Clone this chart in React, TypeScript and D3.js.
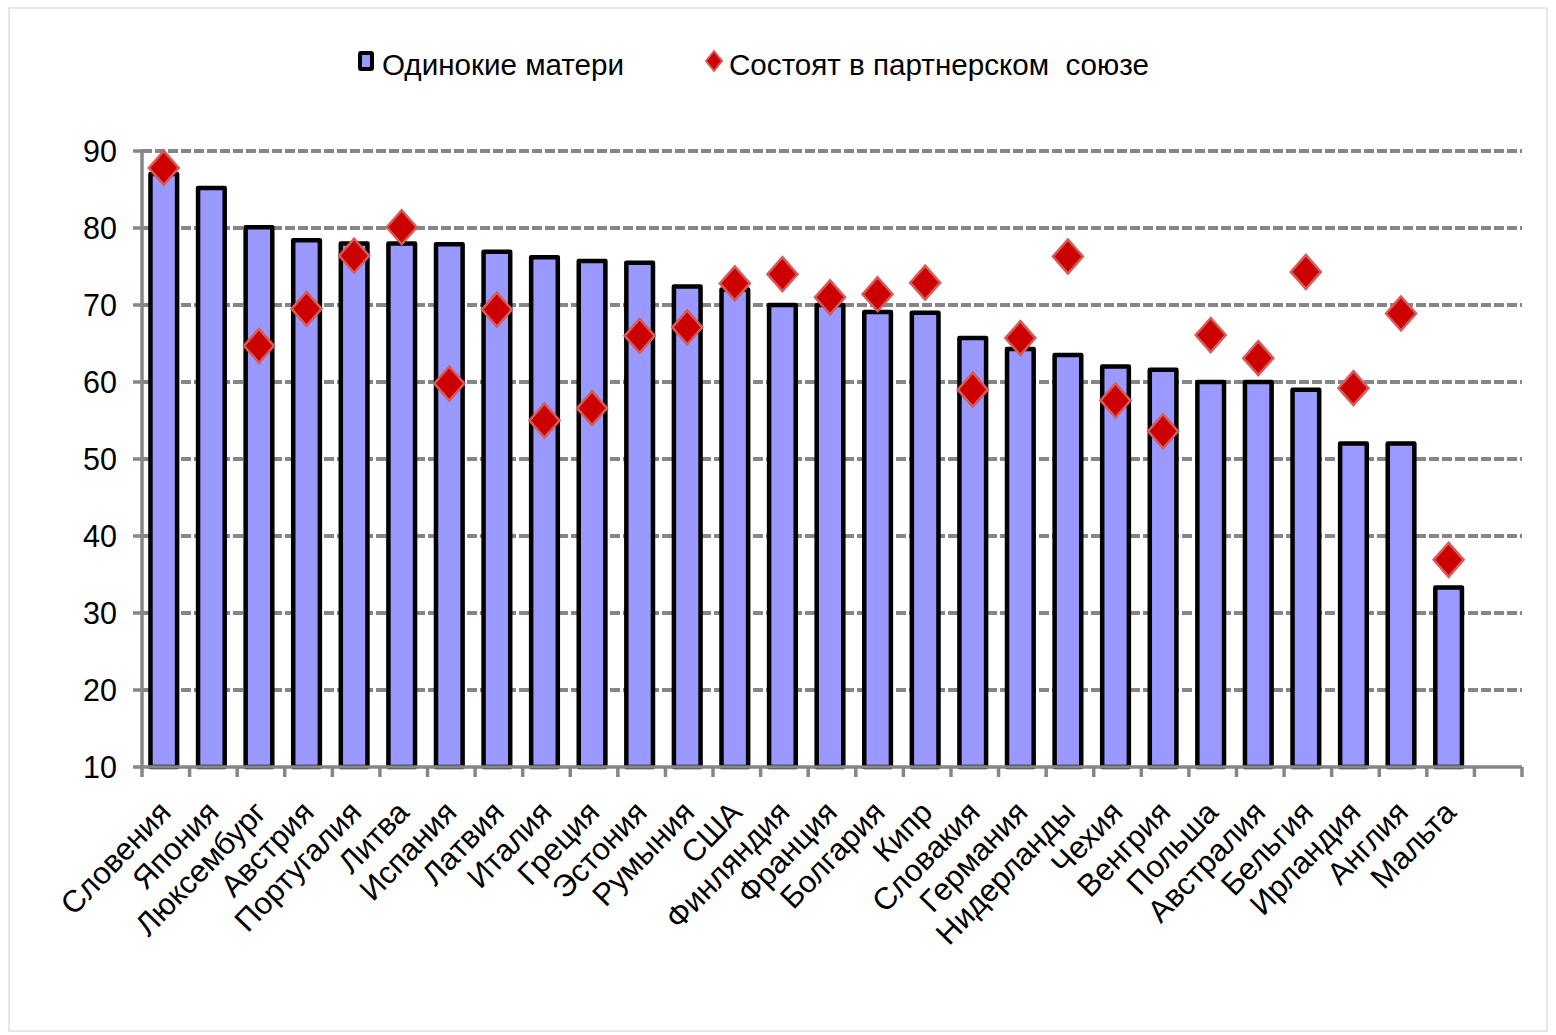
import React from "react";
import * as d3 from "d3";

const categories = [
  "Словения", "Япония", "Люксембург", "Австрия", "Португалия", "Литва", "Испания",
  "Латвия", "Италия", "Греция", "Эстония", "Румыния", "США", "Финляндия", "Франция",
  "Болгария", "Кипр", "Словакия", "Германия", "Нидерланды", "Чехия", "Венгрия",
  "Польша", "Австралия", "Бельгия", "Ирландия", "Англия", "Мальта",
];

const singleMothers = [
  87.0, 85.2, 80.1, 78.4, 78.0, 78.0, 77.9, 76.9, 76.2, 75.7, 75.5, 72.4, 72.0, 70.0,
  70.0, 69.1, 69.0, 65.7, 64.3, 63.5, 62.0, 61.6, 60.0, 60.0, 59.0, 52.0, 52.0, 33.3,
];

const partnered: (number | null)[] = [
  87.8, null, 64.7, 69.5, 76.4, 80.1, 59.8, 69.4, 55.0, 56.6, 66.0, 67.1, 72.8, 74.0,
  71.0, 71.4, 72.9, 59.0, 65.7, 76.3, 57.6, 53.6, 66.1, 63.1, 74.3, 59.2, 68.9, 36.9,
];

const yTicks = [10, 20, 30, 40, 50, 60, 70, 80, 90];

const seriesNames = ["Одинокие матери", "Состоят в партнерском  союзе"];

const W = 1556;
const H = 1035;
const left = 142;
const right = 1522;
const top = 151;
const bottom = 767;
const FONT = "'Liberation Sans', Arial, sans-serif";

export default function App() {
  const slots = [...categories, ""];
  const x = d3.scaleBand<string>().domain(slots).range([left - 2, right - 2]).padding(0);
  const y = d3.scaleLinear().domain([10, 90]).range([bottom, top]);
  const bw = x.bandwidth() * 0.56;
  const boundaries = d3.range(slots.length + 1).map((i) => left + (i * (right - left)) / slots.length);

  const diamond = (cx: number, cy: number, hw: number, hh: number) =>
    `M${cx},${cy - hh}L${cx + hw},${cy}L${cx},${cy + hh}L${cx - hw},${cy}Z`;

  return (
    <svg
      width={W}
      height={H}
      style={{ position: "absolute", left: 0, top: 0, background: "#fff" }}
      fontFamily={FONT}
    >
      <rect x={9} y={8} width={W - 18} height={H - 12} fill="#fff" stroke="#e0e0e0" strokeWidth={1.5} />

      {/* gridlines */}
      {yTicks.filter((t) => t > 10).map((t) => (
        <line
          key={"g" + t}
          x1={left}
          x2={right}
          y1={y(t)}
          y2={y(t)}
          stroke="#868686"
          strokeWidth={4}
          strokeDasharray="10,3"
        />
      ))}

      {/* y axis */}
      <line x1={left} x2={left} y1={top} y2={bottom} stroke="#868686" strokeWidth={3.5} />
      {yTicks.map((t) => (
        <g key={"yt" + t}>
          <line x1={left - 9} x2={left} y1={y(t)} y2={y(t)} stroke="#868686" strokeWidth={3.5} />
          <text x={117} y={y(t)} dy="0.36em" textAnchor="end" fontSize={30.5} fill="#000">
            {t}
          </text>
        </g>
      ))}

      {/* bars */}
      {categories.map((c, i) => {
        const cx = (x(c) as number) + x.bandwidth() / 2;
        return (
          <rect
            key={"b" + c}
            x={cx - bw / 2}
            y={y(singleMothers[i])}
            width={bw}
            height={bottom - y(singleMothers[i])}
            fill="#9999ff"
            stroke="#000"
            strokeWidth={4.5}
            strokeLinejoin="round"
          />
        );
      })}

      {/* x axis */}
      <line x1={left} x2={right} y1={bottom} y2={bottom} stroke="#868686" strokeWidth={3.5} />
      {boundaries.map((bx, i) => (
        <line key={"xt" + i} x1={bx} x2={bx} y1={bottom} y2={bottom + 10} stroke="#868686" strokeWidth={3.5} />
      ))}

      {/* diamonds */}
      {categories.map((c, i) => {
        const v = partnered[i];
        if (v == null) return null;
        const cx = (x(c) as number) + x.bandwidth() / 2;
        return (
          <path
            key={"d" + c}
            d={diamond(cx, y(v), 15, 17)}
            fill="#cc0000"
            stroke="#d65b5b"
            strokeWidth={2.5}
          />
        );
      })}

      {/* x labels */}
      {categories.map((c) => {
        const cx = (x(c) as number) + x.bandwidth() / 2;
        const ax = cx + 9;
        const ay = 814;
        return (
          <text
            key={"xl" + c}
            x={ax}
            y={ay}
            textAnchor="end"
            fontSize={31}
            fill="#000"
            transform={`rotate(-46, ${ax}, ${ay})`}
          >
            {c}
          </text>
        );
      })}

      {/* legend */}
      <rect x={360} y={53} width={12} height={16} fill="#9999ff" stroke="#000" strokeWidth={4} rx={1} />
      <text x={382} y={75} fontSize={29.6} fill="#000">
        {seriesNames[0]}
      </text>
      <path d={diamond(714, 61, 8, 10)} fill="#cc0000" stroke="#d65b5b" strokeWidth={2} />
      <text x={729} y={75} fontSize={29.6} fill="#000" style={{ whiteSpace: "pre" }}>
        {seriesNames[1]}
      </text>
    </svg>
  );
}
